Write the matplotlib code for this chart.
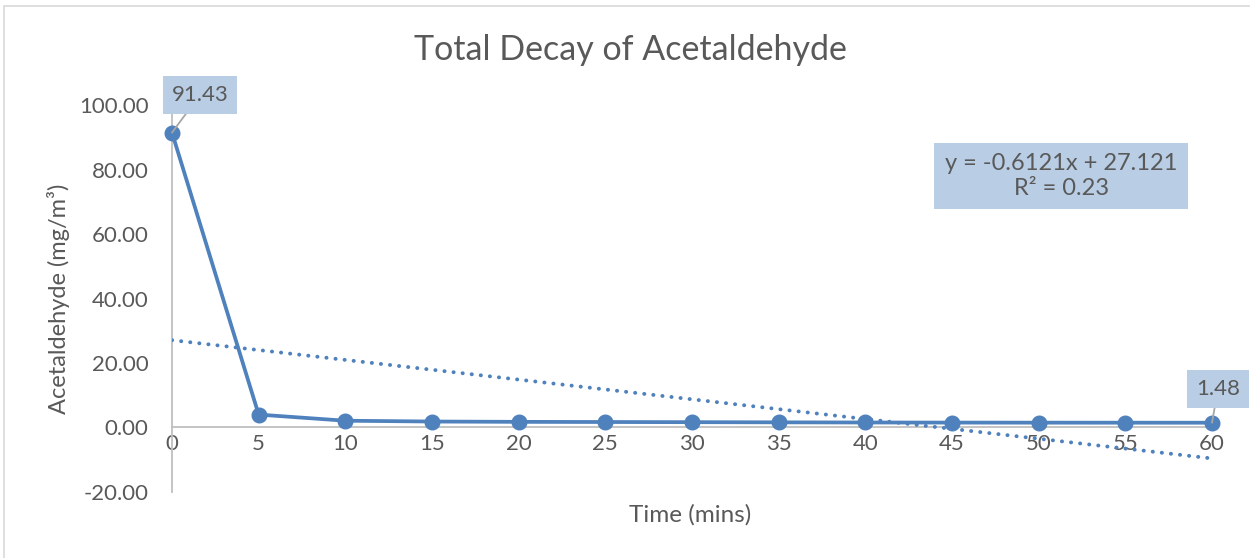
import numpy as np
import matplotlib
matplotlib.use("Agg")
import matplotlib.pyplot as plt
from matplotlib.patches import Rectangle

# data
times = [0, 5, 10, 15, 20, 25, 30, 35, 40, 45, 50, 55, 60]
acetaldehyde = [91.43, 4.0, 2.1, 1.85, 1.75, 1.7, 1.65, 1.6, 1.55, 1.52,
                1.5, 1.49, 1.48]
y_ticks = [-20, 0, 20, 40, 60, 80, 100]
equation_text = "y = -0.6121x + 27.121\nR² = 0.23"

BLUE = "#4F81BD"
BOX = "#B9CDE5"
TEXT = "#595959"
GRID = "#BFBFBF"


def main():
    plt.rcParams['font.family'] = ['Lato', 'DejaVu Sans']
    fig = plt.figure(figsize=(12.5, 5.58), dpi=100)
    ax = fig.add_axes([0.1376, 0.1183, 0.832, 0.6935])

    # outer chart border
    fig.patches.append(Rectangle((0.003, -0.01), 1.0, 0.999,
                                 transform=fig.transFigure, fill=False,
                                 edgecolor="#D9D9D9", linewidth=1.2))

    ax.plot(times, acetaldehyde, color=BLUE, linewidth=2.7, marker="o",
            markersize=10.5, clip_on=False, zorder=4)

    # linear trend line
    slope, intercept = np.polyfit(times, acetaldehyde, 1)
    xs = np.array([times[0], times[-1]])
    ax.plot(xs, slope * xs + intercept, color=BLUE, linewidth=2.8,
            linestyle=(0, (0.05, 2.3)), dash_capstyle="round", zorder=3)

    ax.set_xlim(0, 60)
    ax.set_ylim(-20, 100)
    ax.set_xticks(times)
    ax.set_yticks(y_ticks)
    ax.set_yticklabels([f"{v:.2f}" for v in y_ticks])
    ax.tick_params(length=0, labelsize=16, colors=TEXT)
    ax.tick_params(axis="x", pad=5)
    ax.tick_params(axis="y", pad=17)

    for side in ["top", "right"]:
        ax.spines[side].set_visible(False)
    ax.spines["bottom"].set_position(("data", 0))
    ax.spines["bottom"].set_color(GRID)
    ax.spines["left"].set_color(GRID)
    ax.spines["bottom"].set_linewidth(1.3)
    ax.spines["left"].set_linewidth(1.3)

    fig.text(0.504, 0.91, "Total Decay of Acetaldehyde", fontsize=24.5,
             color=TEXT, ha="center", va="center")
    ax.set_ylabel("Acetaldehyde (mg/m³)", fontsize=17, color=TEXT,
                  labelpad=6)
    fig.text(0.552, 0.077, "Time (mins)", fontsize=17.5, color=TEXT,
             ha="center", va="center")

    # data labels
    box = dict(boxstyle="square,pad=0.4", facecolor=BOX, edgecolor="none")
    arrow = dict(arrowstyle="-", color="#A6A6A6", linewidth=1.3,
                 shrinkA=0, shrinkB=0)
    ax.annotate(f"{acetaldehyde[0]:.2f}", (times[0], acetaldehyde[0]),
                xytext=(28, 38), textcoords="offset pixels", fontsize=16,
                color=TEXT, ha="center", va="center", bbox=box,
                arrowprops=arrow, zorder=5, annotation_clip=False)
    ax.annotate(f"{acetaldehyde[-1]:.2f}", (times[-1], acetaldehyde[-1]),
                xytext=(6, 34), textcoords="offset pixels", fontsize=16,
                color=TEXT, ha="center", va="center", bbox=box,
                arrowprops=arrow, zorder=5, annotation_clip=False)

    fig.text(0.849, 0.6846, equation_text, fontsize=17, color=TEXT,
             ha="center", va="center", linespacing=1.2,
             bbox=dict(boxstyle="square,pad=0.45", facecolor=BOX,
                       edgecolor="none"))

    fig.savefig("out.png", dpi=100)


if __name__ == "__main__":
    main()
